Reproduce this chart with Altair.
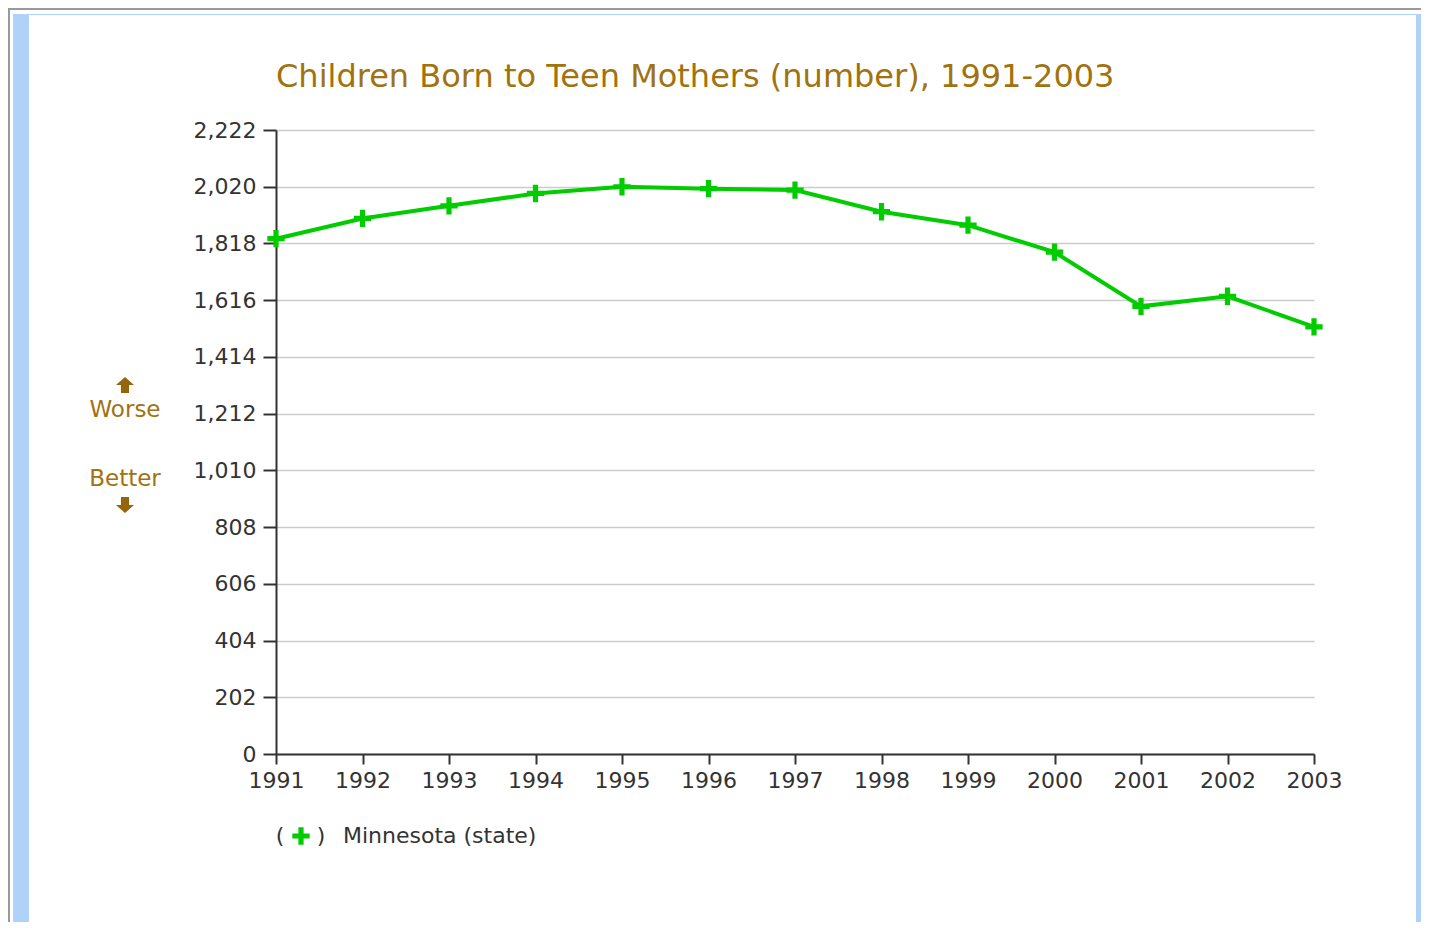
import altair as alt
import pandas as pd

years = [1991, 1992, 1993, 1994, 1995, 1996, 1997, 1998, 1999, 2000, 2001, 2002, 2003]
values = [1835, 1907, 1952, 1996, 2020, 2013, 2008, 1931, 1883, 1787, 1594, 1630, 1521]
y_ticks = [0, 202, 404, 606, 808, 1010, 1212, 1414, 1616, 1818, 2020, 2222]
chart_title = "Children Born to Teen Mothers (number), 1991-2003"
series_name = "Minnesota (state)"

FONT = "DejaVu Sans"
GOLD = "#a2720f"
GREEN = "#00cc00"
TXT = "#333333"
PLUS = "M-1,-0.3 L-0.3,-0.3 L-0.3,-1 L0.3,-1 L0.3,-0.3 L1,-0.3 L1,0.3 L0.3,0.3 L0.3,1 L-0.3,1 L-0.3,0.3 L-1,0.3 Z"
UP = "M0,-0.9 L1,0 L0.45,0 L0.45,0.9 L-0.45,0.9 L-0.45,0 L-1,0 Z"
DOWN = "M0,0.9 L1,0 L0.45,0 L0.45,-0.9 L-0.45,-0.9 L-0.45,0 L-1,0 Z"

df = pd.DataFrame({"year": years, "value": values})
one = pd.DataFrame({"k": [0]})

x_enc = alt.X(
    "year:Q",
    scale=alt.Scale(domain=[1991, 2003], nice=False, zero=False),
    axis=alt.Axis(values=years, format="d", title=None, grid=False, tickSize=10,
                  labelPadding=6, labelFontSize=22, labelFont=FONT, labelColor=TXT,
                  domainColor=TXT, domainWidth=2, tickColor=TXT, tickWidth=2,
                  labelFlush=False),
)
y_enc = alt.Y(
    "value:Q",
    scale=alt.Scale(domain=[0, 2222], nice=False),
    axis=alt.Axis(values=y_ticks, format=",d", title=None, grid=True, gridColor="#cccccc",
                  gridWidth=1.5, tickSize=13, labelPadding=7, labelFontSize=22,
                  labelFont=FONT, labelColor=TXT, domainColor=TXT, domainWidth=2,
                  tickColor=TXT, tickWidth=2),
)

base = alt.Chart(df)
line = base.mark_line(color=GREEN, strokeWidth=4).encode(x=x_enc, y=y_enc)
pts = base.mark_point(shape=PLUS, size=300, filled=True, color=GREEN, opacity=1).encode(
    x="year:Q", y="value:Q")

def rect(x1, x2, y1, y2, color):
    return alt.Chart(one).mark_rect(color=color).encode(
        x=alt.value(x1), x2=alt.value(x2), y=alt.value(y1), y2=alt.value(y2))

decor = [
    rect(-268, -266, -122, 792, "#999999"),
    rect(-268, 1145, -122, -120, "#999999"),
    rect(-263, -247, -116, 792, "#b0d2f8"),
    rect(-247, 1140, -116, -115, "#b0d2f8"),
    rect(1140, 1145, -116, 792, "#b0d2f8"),
]

def text(t, xv, yv, size, color, align="center"):
    return alt.Chart(one).mark_text(text=t, font=FONT, fontSize=size, color=color,
                                    align=align, baseline="middle").encode(
        x=alt.value(xv), y=alt.value(yv))

def sym(path, xv, yv, size, color):
    return alt.Chart(one).mark_point(shape=path, size=size, filled=True, color=color,
                                     opacity=1).encode(x=alt.value(xv), y=alt.value(yv))

annots = [
    text(chart_title, 0, -53, 32, GOLD, align="left"),
    text("Worse", -151, 280, 23, GOLD),
    text("Better", -151, 349, 23, GOLD),
    sym(UP, -151, 255, 324, "#96640a"),
    sym(DOWN, -151, 375, 324, "#96640a"),
    text("(", 4, 706, 22, TXT),
    sym(PLUS, 25, 706, 300, GREEN),
    text(")", 45, 706, 22, TXT),
    text(series_name, 67, 706, 22, TXT, align="left"),
]

chart = alt.layer(*decor, line, pts, *annots).properties(
    width=1038, height=624,
    padding={"left": 268, "top": 122, "right": 107, "bottom": 168},
    autosize=alt.AutoSizeParams(type="none"),
    background="white",
).configure_view(stroke=None)

chart.save("out.html", embed_options={"renderer": "svg", "actions": False})
